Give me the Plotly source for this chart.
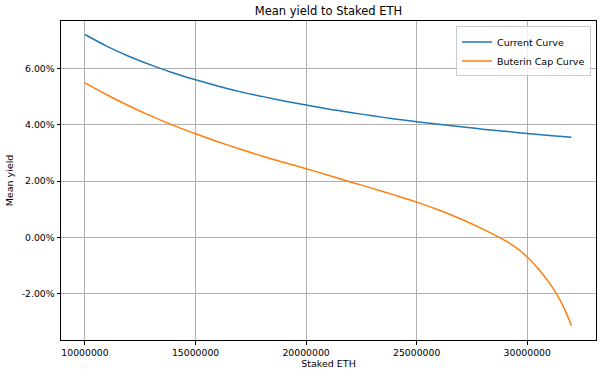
import plotly.graph_objects as go

# ---- data ----
staked_eth = [10e6, 11e6, 12e6, 13e6, 14e6, 15e6, 16e6, 17e6, 18e6, 19e6, 20e6,
              21e6, 22e6, 23e6, 24e6, 25e6, 26e6, 27e6, 28e6, 29e6, 30e6, 31e6, 32e6]
current_curve = [7.21, 6.79, 6.43, 6.12, 5.84, 5.60, 5.38, 5.18, 5.01, 4.85, 4.70,
                 4.56, 4.44, 4.32, 4.21, 4.11, 4.02, 3.93, 3.84, 3.77, 3.69, 3.62, 3.56]

staked_eth_cap = [10e6, 11e6, 12e6, 13e6, 14e6, 15e6, 16e6, 17e6, 18e6, 19e6, 20e6,
                  21e6, 22e6, 23e6, 24e6, 25e6, 26e6, 27e6, 28e6, 29e6, 29.5e6, 30e6,
                  30.5e6, 31e6, 31.3e6, 31.5e6, 31.75e6, 32e6]
buterin_cap_curve = [5.49, 5.06, 4.67, 4.31, 3.98, 3.68, 3.40, 3.14, 2.89, 2.66, 2.44,
                     2.21, 1.97, 1.74, 1.50, 1.25, 0.97, 0.65, 0.29, -0.12, -0.37, -0.70,
                     -1.12, -1.62, -1.98, -2.26, -2.66, -3.14]

x_tick_vals = [10000000, 15000000, 20000000, 25000000, 30000000]
x_tick_text = ["10000000", "15000000", "20000000", "25000000", "30000000"]
y_tick_vals = [-2, 0, 2, 4, 6]
y_tick_text = ["-2.00%", "0.00%", "2.00%", "4.00%", "6.00%"]

FONT = "DejaVu Sans"

fig = go.Figure()
fig.add_trace(go.Scatter(x=staked_eth, y=current_curve, mode="lines",
                         name="Current Curve",
                         line=dict(color="#1f77b4", width=1.5, shape="spline", smoothing=0.8)))
fig.add_trace(go.Scatter(x=staked_eth_cap, y=buterin_cap_curve, mode="lines",
                         name="Buterin Cap Curve",
                         line=dict(color="#ff7f0e", width=1.5, shape="spline", smoothing=0.8)))

axis_common = dict(
    showgrid=True, gridcolor="#b0b0b0", gridwidth=0.8,
    showline=True, linecolor="black", linewidth=1, mirror=True,
    ticks="outside", ticklen=3.5, tickwidth=0.8, tickcolor="black",
    zeroline=False, automargin=False,
    tickfont=dict(family=FONT, size=9.3, color="black"),
)

fig.update_layout(
    width=602, height=377,
    margin=dict(l=61, r=6, t=21, b=37),
    paper_bgcolor="white", plot_bgcolor="white",
    font=dict(family=FONT, color="black"),
    title=dict(text="Mean yield to Staked ETH", x=0.5457, xanchor="center",
               y=0.971, yanchor="middle",
               font=dict(family=FONT, size=11.5, color="black")),
    xaxis=dict(range=[8.915e6, 33.11e6], tickvals=x_tick_vals, ticktext=x_tick_text,
               title=dict(text="Staked ETH", standoff=3,
                          font=dict(family=FONT, size=9.5, color="black")),
               **axis_common),
    yaxis=dict(range=[-3.65, 7.69], tickvals=y_tick_vals, ticktext=y_tick_text,
               title=dict(text="Mean yield", standoff=6,
                          font=dict(family=FONT, size=9.5, color="black")),
               **axis_common),
    legend=dict(x=0.9907, y=0.983, xanchor="right", yanchor="top",
                bgcolor="rgba(255,255,255,0.8)", bordercolor="#cccccc", borderwidth=1,
                font=dict(family=FONT, size=9.5, color="black"),
                tracegroupgap=0, itemwidth=30),
    showlegend=True,
)

fig.write_html("out.html",
               config={"displayModeBar": False},
               post_script="document.body.style.margin='0';document.body.style.overflow='hidden';")
